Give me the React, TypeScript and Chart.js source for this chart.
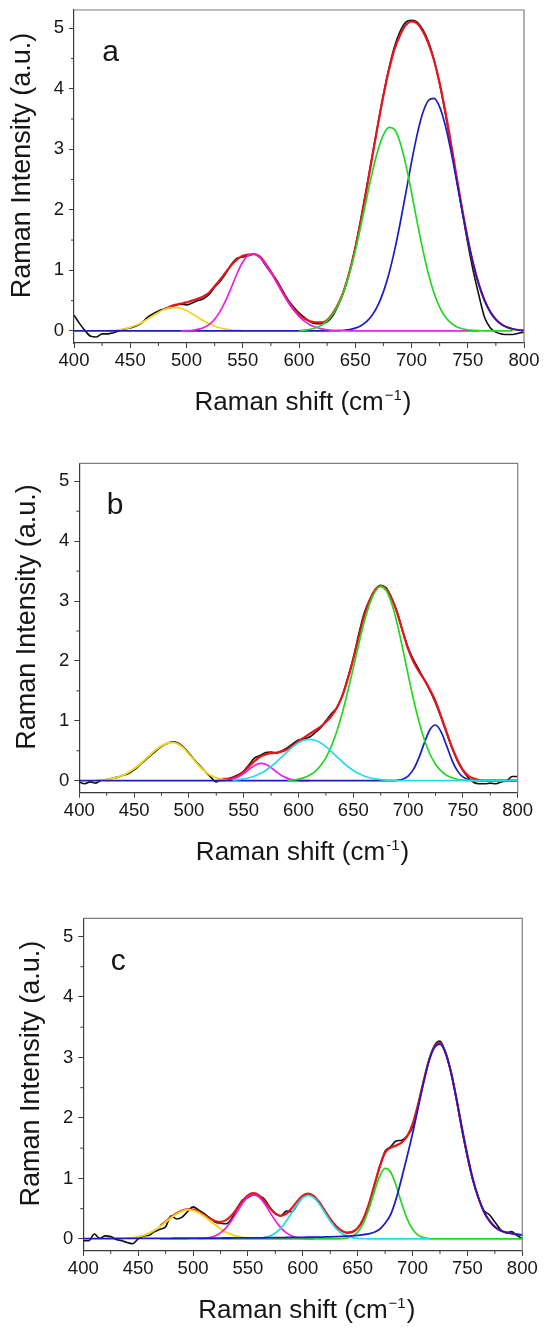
import React, { useEffect, useRef } from "react";
import { Chart, registerables } from "chart.js";
import type { Plugin } from "chart.js";

// Register Chart.js components
Chart.register(...registerables);

const _ = null;

// Raman shift grid (cm-1) shared by every curve
const ramanShift = [
  400, 405, 410, 415, 420, 425, 430, 435, 440, 445,
  450, 455, 460, 465, 470, 475, 480, 485, 490, 495,
  500, 505, 510, 515, 520, 525, 530, 535, 540, 545,
  550, 555, 560, 565, 570, 575, 580, 585, 590, 595,
  600, 605, 610, 615, 620, 625, 630, 635, 640, 645,
  650, 655, 660, 665, 670, 675, 680, 685, 690, 695,
  700, 705, 710, 715, 720, 725, 730, 735, 740, 745,
  750, 755, 760, 765, 770, 775, 780, 785, 790, 795,
  800,
];

const xMajorTicks = [400, 450, 500, 550, 600, 650, 700, 750, 800];
const xMinorTicks = [425, 475, 525, 575, 625, 675, 725, 775];
const yMajorTicks = [0, 1, 2, 3, 4, 5];
const yMinorTicks = [0.5, 1.5, 2.5, 3.5, 4.5];

// ---- panel a ----
const aRaw = [
  0.26, 0.12, 0.0, -0.09, -0.1, -0.05, -0.05, -0.03, 0.0, 0.03,
  0.05, 0.08, 0.13, 0.22, 0.28, 0.33, 0.36, 0.38, 0.42, 0.44,
  0.43, 0.46, 0.5, 0.53, 0.6, 0.72, 0.82, 0.95, 1.1, 1.2,
  1.22, 1.24, 1.27, 1.22, 1.09, 0.96, 0.84, 0.68, 0.52, 0.4,
  0.3, 0.22, 0.15, 0.12, 0.12, 0.15, 0.25, 0.43, 0.66, 0.98,
  1.38, 1.85, 2.36, 2.88, 3.4, 3.9, 4.34, 4.7, 4.95, 5.1,
  5.13, 5.1, 4.98, 4.78, 4.48, 4.08, 3.6, 3.08, 2.52, 1.98,
  1.45, 0.98, 0.58, 0.22, 0.05, -0.02, -0.05, -0.06, -0.06, -0.04,
  -0.02,
];
const aFit = [
  _, _, _, _, _, _, _, _, _, _,
  _, _, _, _, _, _, 0.36, 0.4, 0.43, 0.45,
  0.47, 0.5, 0.53, 0.57, 0.63, 0.74, 0.85, 0.97, 1.09, 1.18,
  1.24, 1.26, 1.27, 1.23, 1.12, 0.98, 0.82, 0.66, 0.5, 0.37,
  0.27, 0.2, 0.16, 0.14, 0.14, 0.18, 0.29, 0.45, 0.675, 0.98,
  1.365, 1.82, 2.33, 2.864, 3.39, 3.882, 4.312, 4.657, 4.891, 5.05,
  5.11, 5.08, 4.95, 4.75, 4.469, 4.094, 3.631, 3.108, 2.557, 2.017,
  1.523, 1.1, 0.759, 0.499, 0.314, 0.189, 0.108, 0.059, 0.031, 0.015,
  0.007,
];
const aYellow = [
  _, _, _, _, _, _, 0.005, 0.01, 0.019, 0.035,
  0.058, 0.092, 0.136, 0.19, 0.248, 0.305, 0.352, 0.382, 0.39, 0.373,
  0.335, 0.283, 0.225, 0.167, 0.117, 0.077, 0.048, 0.028, 0.015, 0.008,
  0.004,
];
const aMagenta = [
  _, _, _, _, _, _, _, _, _, _,
  _, _, _, _, _, _, _, _, _, 0.001,
  0.004, 0.01, 0.024, 0.052, 0.104, 0.193, 0.327, 0.508, 0.725, 0.948,
  1.137, 1.25, 1.265, 1.213, 1.108, 0.966, 0.804, 0.638, 0.482, 0.348,
  0.24, 0.157, 0.099, 0.059, 0.034, 0.018, 0.009, 0.004, 0.002, 0.001,
  0, 0, 0, 0, 0, 0, 0, 0, 0, 0,
  0, 0, 0, 0, 0, 0, 0, 0, 0, 0,
  0, 0, 0,
];
const aGreen = [
  _, _, _, _, _, _, _, _, _, _,
  _, _, _, _, _, _, _, _, _, _,
  _, _, _, _, _, _, _, _, _, _,
  _, _, _, _, _, _, _, _, _, _,
  0.006, 0.013, 0.027, 0.052, 0.094, 0.165, 0.275, 0.436, 0.662, 0.957,
  1.319, 1.735, 2.177, 2.606, 2.974, 3.238, 3.363, 3.324, 3.105, 2.741,
  2.286, 1.802, 1.342, 0.944, 0.627, 0.394, 0.234, 0.131, 0.07, 0.035,
  0.016, 0.007, 0.003, 0, 0, 0, 0, 0, 0,
];
const aBlue = [
  0, 0, 0, 0, 0, 0, 0, 0, 0, 0,
  0, 0, 0, 0, 0, 0, 0, 0, 0, 0,
  0, 0, 0, 0, 0, 0, 0, 0, 0, 0,
  0, 0, 0, 0, 0, 0, 0, 0, 0, 0,
  0, 0, 0, 0, 0, 0.001, 0.002, 0.005, 0.011, 0.023,
  0.046, 0.085, 0.152, 0.258, 0.416, 0.644, 0.949, 1.333, 1.786, 2.284,
  2.786, 3.241, 3.597, 3.806, 3.842, 3.7, 3.397, 2.977, 2.487, 1.982,
  1.507, 1.093, 0.756, 0.499, 0.314, 0.189, 0.108, 0.059, 0.031, 0.015,
  0.007,
];

// ---- panel b ----
const bRaw = [
  -0.02, -0.05, -0.02, -0.04, 0.01, 0.02, 0.04, 0.06, 0.09, 0.12,
  0.18, 0.26, 0.34, 0.42, 0.5, 0.57, 0.62, 0.65, 0.63, 0.56,
  0.46, 0.35, 0.25, 0.15, 0.06, -0.02, 0.02, 0.03, 0.06, 0.1,
  0.16, 0.27, 0.38, 0.42, 0.47, 0.48, 0.46, 0.5, 0.55, 0.62,
  0.68, 0.7, 0.73, 0.8, 0.88, 1.0, 1.12, 1.22, 1.42, 1.72,
  2.05, 2.45, 2.8, 3.02, 3.18, 3.26, 3.22, 3.05, 2.82, 2.5,
  2.22, 2.02, 1.85, 1.68, 1.5, 1.3, 1.06, 0.8, 0.55, 0.33,
  0.17, 0.05, -0.03, -0.05, -0.05, -0.04, -0.05, -0.02, 0.0, 0.07,
  0.07,
];
const bFit = [
  _, _, _, _, _, _, _, _, _, _,
  _, _, _, _, _, _, _, _, _, _,
  _, _, _, _, _, _, 0.03, 0.03, 0.045, 0.085,
  0.15, 0.24, 0.33, 0.4, 0.44, 0.46, 0.47, 0.49, 0.53, 0.59,
  0.66, 0.72, 0.78, 0.84, 0.9, 0.98, 1.08, 1.22, 1.42, 1.7,
  2.03, 2.4, 2.75, 3.02, 3.19, 3.26, 3.2, 3.04, 2.8, 2.5,
  2.2, 1.98, 1.82, 1.68, 1.52, 1.33, 1.08, 0.82, 0.56, 0.35,
  0.18, 0.08, 0.035, 0.01, 0, 0, 0, 0, 0, 0,
  0,
];
const bYellow = [
  _, _, _, 0.006, 0.012, 0.021, 0.037, 0.06, 0.094, 0.141,
  0.201, 0.273, 0.354, 0.439, 0.517, 0.582, 0.625, 0.64, 0.615, 0.545,
  0.445, 0.336, 0.234, 0.15, 0.089, 0.048, 0.024, 0.011, 0.005,
];
const bMagenta = [
  _, _, _, _, _, _, _, _, _, _,
  _, _, _, _, _, _, _, _, _, _,
  _, _, _, _, _, 0.001, 0.003, 0.01, 0.028, 0.063,
  0.119, 0.19, 0.256, 0.289, 0.274, 0.219, 0.147, 0.083, 0.039, 0.016,
  0.005, 0.001, 0,
];
const bCyan = [
  _, _, _, _, _, _, _, _, _, _,
  _, _, _, _, _, _, _, _, _, _,
  _, _, _, _, _, _, _, _, 0.01, 0.018,
  0.03, 0.05, 0.079, 0.119, 0.172, 0.238, 0.316, 0.401, 0.488, 0.568,
  0.633, 0.675, 0.69, 0.675, 0.633, 0.568, 0.488, 0.401, 0.316, 0.238,
  0.172, 0.119, 0.079, 0.05, 0.03, 0.018, 0.01, 0.005, 0.002, 0.001,
  0, 0, 0, 0, 0, 0, 0, 0, 0, 0,
  0, 0, 0, 0, 0, 0, 0, 0, 0, 0,
  0,
];
const bGreen = [
  _, _, _, _, _, _, _, _, _, _,
  _, _, _, _, _, _, _, _, _, _,
  _, _, _, _, _, _, _, _, _, _,
  _, _, _, _, _, _, _, _, 0.008, 0.015,
  0.028, 0.052, 0.091, 0.153, 0.249, 0.387, 0.578, 0.826, 1.134, 1.493,
  1.884, 2.283, 2.652, 2.955, 3.159, 3.24, 3.175, 2.959, 2.624, 2.211,
  1.772, 1.351, 0.98, 0.675, 0.442, 0.276, 0.164, 0.092, 0.05, 0.025,
  0.012, 0.005, 0.002, 0, 0, 0, 0, 0, 0,
];
const bBlue = [
  0, 0, 0, 0, 0, 0, 0, 0, 0, 0,
  0, 0, 0, 0, 0, 0, 0, 0, 0, 0,
  0, 0, 0, 0, 0, 0, 0, 0, 0, 0,
  0, 0, 0, 0, 0, 0, 0, 0, 0, 0,
  0, 0, 0, 0, 0, 0, 0, 0, 0, 0,
  0, 0, 0, 0, 0, 0, 0, 0.002, 0.007, 0.025,
  0.078, 0.193, 0.39, 0.64, 0.856, 0.93, 0.82, 0.59, 0.345, 0.164,
  0.064, 0.02, 0.005, 0.001, 0, 0, 0, 0, 0, 0,
  0,
];

// ---- panel c ----
const cRaw = [
  -0.03, -0.03, 0.08, 0.01, 0.05, 0.04, -0.01, -0.03, -0.06, -0.08,
  0.0, 0.05, 0.06, 0.12, 0.16, 0.2, 0.38, 0.33, 0.36, 0.45,
  0.53, 0.48, 0.42, 0.35, 0.28, 0.26, 0.25, 0.33, 0.5, 0.64,
  0.68, 0.73, 0.71, 0.66, 0.52, 0.42, 0.38, 0.46, 0.45, 0.57,
  0.69, 0.74, 0.7, 0.6, 0.46, 0.32, 0.21, 0.14, 0.1, 0.12,
  0.18, 0.32, 0.55, 0.87, 1.18, 1.45, 1.52, 1.62, 1.63, 1.7,
  1.85, 2.2, 2.6, 2.95, 3.2, 3.27, 3.08, 2.75, 2.3, 1.8,
  1.35, 0.97, 0.68, 0.47, 0.4, 0.28, 0.16, 0.1, 0.12, 0.06,
  0.0,
];
const cFit = [
  _, _, _, _, _, _, _, _, _, _,
  _, _, _, _, 0.216, 0.287, 0.36, 0.424, 0.47, 0.49,
  0.483, 0.449, 0.397, 0.34, 0.296, 0.281, 0.31, 0.387, 0.502, 0.625,
  0.72, 0.756, 0.719, 0.625, 0.51, 0.418, 0.383, 0.418, 0.509, 0.623,
  0.715, 0.75, 0.709, 0.606, 0.469, 0.331, 0.217, 0.141, 0.105, 0.113,
  0.178, 0.326, 0.566, 0.879, 1.192, 1.426, 1.507, 1.543, 1.592, 1.694,
  1.898, 2.223, 2.601, 2.956, 3.18, 3.24, 3.08, 2.76, 2.32, 1.83,
  1.38, 0.98, 0.68, 0.45, 0.3, 0.2, 0.14, 0.11, 0.09, 0.075,
  0.065,
];
const cYellow = [
  _, _, _, _, _, _, _, _, 0.01, 0.019,
  0.034, 0.059, 0.095, 0.145, 0.206, 0.277, 0.349, 0.413, 0.459, 0.48,
  0.47, 0.434, 0.376, 0.306, 0.234, 0.168, 0.113, 0.072, 0.043, 0.024,
  0.013, 0.006,
];
const cMagenta = [
  _, _, _, _, _, _, _, _, _, _,
  _, _, _, _, _, _, _, _, _, _,
  _, 0.003, 0.008, 0.021, 0.048, 0.099, 0.182, 0.3, 0.443, 0.585,
  0.69, 0.73, 0.69, 0.585, 0.443, 0.3, 0.182, 0.099, 0.048, 0.021,
  0.008, 0.003, 0.001,
];
const cCyan = [
  _, _, _, _, _, _, _, _, _, _,
  _, _, _, _, _, _, _, _, _, _,
  _, _, _, _, _, _, _, _, _, _,
  _, 0.003, 0.008, 0.021, 0.047, 0.097, 0.179, 0.296, 0.437, 0.577,
  0.681, 0.72, 0.681, 0.577, 0.437, 0.296, 0.179, 0.097, 0.047, 0.021,
  0.008, 0.003, 0, 0, 0, 0, 0, 0, 0, 0,
  0, 0, 0, 0,
];
const cGreen = [
  _, _, _, _, _, _, _, _, _, _,
  _, _, _, _, 0, 0, 0, 0, 0, 0,
  0, 0, 0, 0, 0, 0, 0, 0, 0, 0,
  0, 0, 0, 0, 0, 0, 0, 0, 0, 0,
  0, 0, 0, 0, 0, 0, 0, 0.003, 0.013, 0.042,
  0.112, 0.253, 0.481, 0.769, 1.032, 1.166, 1.107, 0.883, 0.592, 0.334,
  0.158, 0.063, 0.021, 0.006, 0.001, 0, 0, 0, 0, 0,
  0, 0, 0, 0, 0, 0, 0, 0, 0, 0,
  0,
];
const cBlue = [
  0.005, 0.005, 0.006, 0.006, 0.006, 0.007, 0.007, 0.007, 0.008, 0.008,
  0.008, 0.009, 0.009, 0.009, 0.01, 0.01, 0.01, 0.011, 0.011, 0.011,
  0.012, 0.012, 0.013, 0.013, 0.014, 0.014, 0.015, 0.015, 0.016, 0.016,
  0.017, 0.018, 0.018, 0.019, 0.02, 0.021, 0.022, 0.023, 0.024, 0.025,
  0.026, 0.027, 0.028, 0.029, 0.032, 0.035, 0.038, 0.041, 0.045, 0.05,
  0.058, 0.07, 0.085, 0.11, 0.16, 0.26, 0.4, 0.66, 1.0, 1.36,
  1.74, 2.16, 2.58, 2.95, 3.17, 3.22, 3.08, 2.76, 2.32, 1.83,
  1.38, 0.98, 0.68, 0.45, 0.3, 0.2, 0.14, 0.11, 0.09, 0.075,
  0.065,
];

const FONT = "'Liberation Sans', Arial, Helvetica, sans-serif";
const TEXT_COLOR = "#161616";
const AXIS_COLOR = "#3c3c3c";
const FRAME_COLOR = "#7d7d7d";

const RAW = "#111111";
const FIT = "#e8141c";
const YELLOW = "#f0d61e";
const MAGENTA = "#ea1fe2";
const GREEN = "#25d625";
const BLUE = "#1c1cc6";
const CYAN = "#24dce8";

const X_TITLE = "Raman shift (cm";
const Y_TITLE = "Raman Intensity (a.u.)";
// panel letter anchor, in data units
const LETTER_AT = { x: 425, y: 4.45 };

interface SeriesSpec {
  label: string;
  values: (number | null)[];
  color: string;
  width: number;
}

interface PanelSpec {
  letter: string;
  sup: string;
  top: number;
  height: number;
  padTop: number;
  padRight: number;
  axisLeft: number;
  axisBottom: number;
  // listed top-most first
  series: SeriesSpec[];
}

const panels: PanelSpec[] = [
  {
    letter: "a", sup: "\u22121", top: 0, height: 440,
    padTop: 10, padRight: 26, axisLeft: 74, axisBottom: 97,
    series: [
      { label: "green", values: aGreen, color: GREEN, width: 1.7 },
      { label: "magenta", values: aMagenta, color: MAGENTA, width: 1.7 },
      { label: "blue", values: aBlue, color: BLUE, width: 1.7 },
      { label: "yellow", values: aYellow, color: YELLOW, width: 1.7 },
      { label: "fit", values: aFit, color: FIT, width: 2.2 },
      { label: "raw", values: aRaw, color: RAW, width: 1.6 },
    ],
  },
  {
    letter: "b", sup: "-1", top: 440, height: 450,
    padTop: 23.3, padRight: 32.3, axisLeft: 79.3, axisBottom: 97.3,
    series: [
      { label: "cyan", values: bCyan, color: CYAN, width: 1.7 },
      { label: "green", values: bGreen, color: GREEN, width: 1.7 },
      { label: "blue", values: bBlue, color: BLUE, width: 1.7 },
      { label: "magenta", values: bMagenta, color: MAGENTA, width: 1.7 },
      { label: "yellow", values: bYellow, color: YELLOW, width: 2 },
      { label: "fit", values: bFit, color: FIT, width: 2.2 },
      { label: "raw", values: bRaw, color: RAW, width: 1.6 },
    ],
  },
  {
    letter: "c", sup: "\u22121", top: 890, height: 445,
    padTop: 28.3, padRight: 27.7, axisLeft: 83.3, axisBottom: 84,
    series: [
      { label: "blue", values: cBlue, color: BLUE, width: 1.8 },
      { label: "cyan", values: cCyan, color: CYAN, width: 1.7 },
      { label: "green", values: cGreen, color: GREEN, width: 1.7 },
      { label: "magenta", values: cMagenta, color: MAGENTA, width: 1.7 },
      { label: "yellow", values: cYellow, color: YELLOW, width: 2 },
      { label: "fit", values: cFit, color: FIT, width: 2.2 },
      { label: "raw", values: cRaw, color: RAW, width: 1.6 },
    ],
  },
];

const toPoints = (values: (number | null)[]) =>
  ramanShift.map((x, i) => ({ x, y: values[i] ?? null }));

// frame, minor ticks, panel letter and axis titles
function decor(panel: PanelSpec): Plugin<"line"> {
  return {
    id: "decor",
    afterDraw(chart) {
      const { ctx, chartArea: area, scales } = chart;
      const xs = scales.x;
      const ys = scales.y;
      ctx.save();

      ctx.strokeStyle = FRAME_COLOR;
      ctx.lineWidth = 1.2;
      ctx.beginPath();
      ctx.moveTo(area.left, area.top);
      ctx.lineTo(area.right, area.top);
      ctx.lineTo(area.right, area.bottom);
      ctx.stroke();

      ctx.strokeStyle = AXIS_COLOR;
      ctx.lineWidth = 1;
      ctx.beginPath();
      xMinorTicks.forEach((v) => {
        const px = xs.getPixelForValue(v);
        ctx.moveTo(px, area.bottom);
        ctx.lineTo(px, area.bottom + 3);
      });
      yMinorTicks.forEach((v) => {
        const py = ys.getPixelForValue(v);
        ctx.moveTo(area.left, py);
        ctx.lineTo(area.left - 3, py);
      });
      ctx.stroke();

      ctx.fillStyle = TEXT_COLOR;
      ctx.textAlign = "left";
      ctx.textBaseline = "alphabetic";
      ctx.font = `30px ${FONT}`;
      ctx.fillText(panel.letter, xs.getPixelForValue(LETTER_AT.x), ys.getPixelForValue(LETTER_AT.y));

      // x title with superscript
      const mainFont = `26px ${FONT}`;
      const supFont = `15px ${FONT}`;
      const base = area.bottom + 67;
      ctx.font = mainFont;
      const w1 = ctx.measureText(X_TITLE).width;
      const w3 = ctx.measureText(")").width;
      ctx.font = supFont;
      const w2 = ctx.measureText(panel.sup).width;
      const x0 = (area.left + area.right) / 2 + 4 - (w1 + w2 + w3 + 2) / 2;
      ctx.font = mainFont;
      ctx.fillText(X_TITLE, x0, base);
      ctx.font = supFont;
      ctx.fillText(panel.sup, x0 + w1 + 1, base - 10);
      ctx.font = mainFont;
      ctx.fillText(")", x0 + w1 + w2 + 2, base);

      // y title
      ctx.translate(area.left - 51.5, (area.top + area.bottom) / 2 - 11);
      ctx.rotate(-Math.PI / 2);
      ctx.font = `27px ${FONT}`;
      ctx.textAlign = "center";
      ctx.textBaseline = "middle";
      ctx.fillText(Y_TITLE, 0, 0);

      ctx.restore();
    },
  };
}

const RamanPanel: React.FC<{ panel: PanelSpec }> = ({ panel }) => {
  const chartRef = useRef<HTMLCanvasElement>(null);

  useEffect(() => {
    if (!chartRef.current) return;
    const chart = new Chart(chartRef.current, {
      type: "line",
      data: {
        datasets: panel.series.map((s, i) => ({
          label: s.label,
          data: toPoints(s.values),
          borderColor: s.color,
          backgroundColor: s.color,
          borderWidth: s.width,
          pointRadius: 0,
          fill: false,
          order: i,
          cubicInterpolationMode: "monotone" as const,
        })),
      },
      options: {
        animation: false,
        responsive: true,
        maintainAspectRatio: false,
        events: [],
        layout: { padding: { left: 0, top: panel.padTop, right: panel.padRight, bottom: 0 } },
        plugins: { legend: { display: false }, tooltip: { enabled: false } },
        scales: {
          x: {
            type: "linear",
            min: 400,
            max: 800,
            afterBuildTicks: (scale) => {
              scale.ticks = xMajorTicks.map((value) => ({ value }));
            },
            afterFit: (scale) => {
              scale.height = panel.axisBottom;
              scale.paddingLeft = 0;
              scale.paddingRight = 0;
            },
            ticks: {
              autoSkip: false,
              maxRotation: 0,
              padding: 2,
              color: TEXT_COLOR,
              font: { family: FONT, size: 18.5 },
              callback: (v) => String(v),
            },
            grid: { drawOnChartArea: false, tickLength: 5, tickColor: AXIS_COLOR, tickWidth: 1 },
            border: { display: true, color: AXIS_COLOR, width: 1.2 },
          },
          y: {
            type: "linear",
            min: -0.2,
            max: 5.3,
            afterBuildTicks: (scale) => {
              scale.ticks = yMajorTicks.map((value) => ({ value }));
            },
            afterFit: (scale) => {
              scale.width = panel.axisLeft;
              scale.paddingTop = 0;
              scale.paddingBottom = 0;
            },
            ticks: {
              autoSkip: false,
              padding: 5,
              color: TEXT_COLOR,
              font: { family: FONT, size: 18.5 },
              callback: (v) => String(v),
            },
            grid: { drawOnChartArea: false, tickLength: 5, tickColor: AXIS_COLOR, tickWidth: 1 },
            border: { display: true, color: AXIS_COLOR, width: 1.2 },
          },
        },
      },
      plugins: [decor(panel)],
    });

    // Clean up chart instance on unmount
    return () => chart.destroy();
  }, [panel]);

  return (
    <div style={{ position: "absolute", left: 0, top: panel.top, width: 550, height: panel.height }}>
      <canvas ref={chartRef}></canvas>
    </div>
  );
};

const App: React.FC = () => (
  <div style={{ position: "absolute", left: 0, top: 0, width: 550, height: 1335, background: "#fff" }}>
    {panels.map((p) => (
      <RamanPanel key={p.letter} panel={p} />
    ))}
  </div>
);

export default App;
